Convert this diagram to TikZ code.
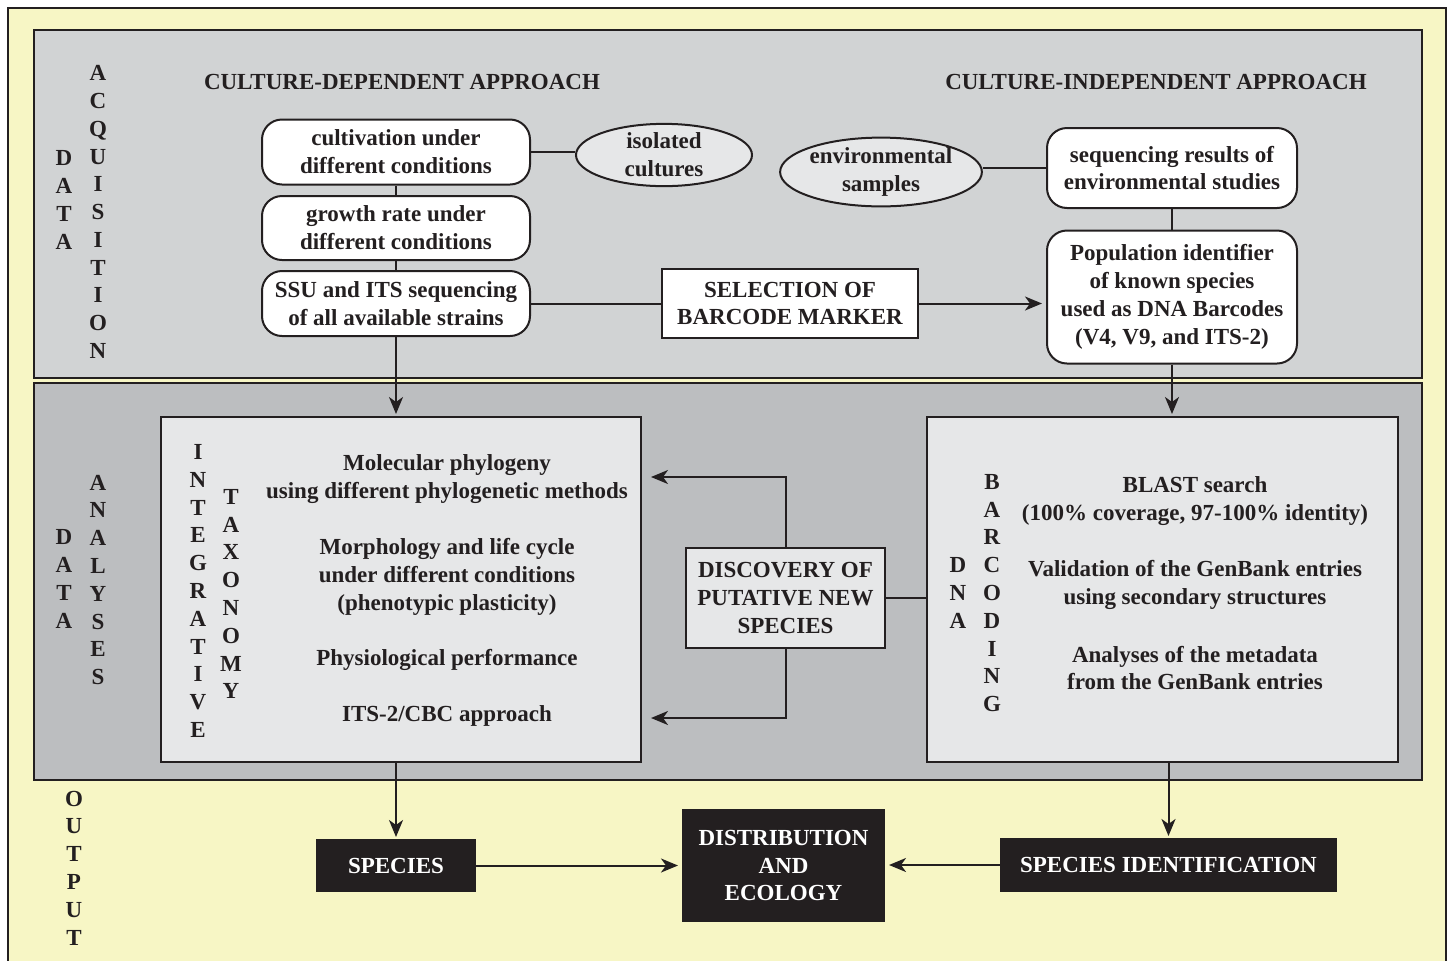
\documentclass[tikz,border=0pt]{standalone}
\usepackage{fontspec}
\setmainfont{Liberation Serif}
\usetikzlibrary{shapes.geometric,arrows.meta}

\definecolor{bgyellow}{RGB}{247,246,197}
\definecolor{paneltop}{RGB}{209,211,212}
\definecolor{panelbot}{RGB}{188,190,192}
\definecolor{boxgrey}{RGB}{230,231,232}
\definecolor{inkblack}{RGB}{35,31,32}

\tikzset{every picture/.style={line width=1pt}}
\tikzset{
  txt/.style={font=\fontsize{11.5}{13.9}\selectfont\bfseries, text=inkblack, align=center, inner sep=0pt},
  rbox/.style={txt, draw=inkblack, fill=white, rounded corners=10pt},
  sbox/.style={txt, draw=inkblack},
  oval/.style={txt, ellipse, draw=inkblack, fill=boxgrey},
  blkbox/.style={txt, draw=inkblack, fill=inkblack, text=white},
  arr/.style={draw=inkblack, -{Stealth[length=8.5pt,width=7pt,inset=2.5pt]}},
  con/.style={draw=inkblack},
}

\begin{document}
\begin{tikzpicture}[x=0.5pt,y=0.5pt,yscale=-1,xscale=1]
\useasboundingbox (0,0) rectangle (1448,960);

%Panels
\draw [draw=inkblack, fill=bgyellow] (8,8) rectangle (1446,975);
\draw [draw=inkblack, fill=paneltop] (34,30) rectangle (1422,378);
\draw [draw=inkblack, fill=panelbot] (34,383) rectangle (1422,780);

% Side labels
\node [txt] (dataA) at (64,200) {D\\A\\T\\A};
\node [txt] (acq) at (98,212) {A\\C\\Q\\U\\I\\S\\I\\T\\I\\O\\N};
\node [txt] (dataB) at (64,579) {D\\A\\T\\A};
\node [txt] (anl) at (98,580) {A\\N\\A\\L\\Y\\S\\E\\S};
\node [txt] (outp) at (74,868) {O\\U\\T\\P\\U\\T};

% Headings
\node [txt] (hdep) at (402,82) {CULTURE-DEPENDENT APPROACH};
\node [txt] (hind) at (1156,82) {CULTURE-INDEPENDENT APPROACH};

% Culture-dependent boxes
\node [rbox, minimum width=134pt, minimum height=32.5pt] (cult) at (396,152) {cultivation under\\different conditions};
\node [rbox, minimum width=134pt, minimum height=32pt] (growth) at (396,228) {growth rate under\\different conditions};
\node [rbox, minimum width=134pt, minimum height=32.5pt] (ssu) at (396,303.5) {SSU and ITS sequencing\\of all available strains};
\node [oval, minimum width=88pt, minimum height=31pt] (iso) at (664,155) {isolated\\cultures};

% Culture-independent boxes
\node [oval, minimum width=99pt, minimum height=34pt] (env) at (881,172) {environmental\\samples};
\node [rbox, minimum width=125pt, minimum height=40pt] (seqres) at (1172,168) {sequencing results of\\environmental studies};
\node [rbox, minimum width=125pt, minimum height=66.5pt] (popid) at (1172,297) {Population identifier\\of known species\\used as DNA Barcodes\\(V4, V9, and ITS-2)};
\node [sbox, fill=white, minimum width=128pt, minimum height=34.5pt] (selm) at (790,303.5) {SELECTION OF\\BARCODE MARKER};

% Analyses boxes
\node [sbox, fill=boxgrey, minimum width=240pt, minimum height=172.5pt] (itbox) at (401,589.5) {};
\node [sbox, fill=boxgrey, minimum width=235.5pt, minimum height=172.5pt] (dnabox) at (1162.5,589.5) {};
\node [sbox, fill=boxgrey, minimum width=99.5pt, minimum height=50pt] (disc) at (785.5,598) {DISCOVERY OF\\PUTATIVE NEW\\SPECIES};

\node [txt] (integ) at (198,591) {I\\N\\T\\E\\G\\R\\A\\T\\I\\V\\E};
\node [txt] (taxo) at (231,594) {T\\A\\X\\O\\N\\O\\M\\Y};
\node [txt] (molph) at (447,479) {Molecular phylogeny\\using different phylogenetic methods};
\node [txt] (morph) at (447,577) {Morphology and life cycle\\under different conditions\\(phenotypic plasticity)};
\node [txt] (phys) at (447,660) {Physiological performance};
\node [txt] (itscbc) at (447,716) {ITS-2/CBC approach};

\node [txt] (dna) at (958,593) {D\\N\\A};
\node [txt] (barc) at (992,593) {B\\A\\R\\C\\O\\D\\I\\N\\G};
\node [txt] (blast) at (1195,501) {BLAST search\\(100\% coverage, 97-100\% identity)};
\node [txt] (valid) at (1195,585) {Validation of the GenBank entries\\using secondary structures};
\node [txt] (meta) at (1195,668) {Analyses of the metadata\\from the GenBank entries};

% Output boxes
\node [blkbox, minimum width=79pt, minimum height=25.5pt] (spec) at (396,865.5) {SPECIES};
\node [blkbox, minimum width=100.5pt, minimum height=55.5pt] (distr) at (783.5,865.5) {DISTRIBUTION\\AND\\ECOLOGY};
\node [blkbox, minimum width=167.5pt, minimum height=26pt] (specid) at (1168.5,865) {SPECIES IDENTIFICATION};

\coordinate (tipA) at (651,477);
\coordinate (tipB) at (651,718);

%Connectors
\draw [con] (cult.east) -- (cult.east -| iso.west);
\draw [con] (cult.south) -- (growth.north);
\draw [con] (growth.south) -- (ssu.north);
\draw [con] (ssu.east) -- (selm.west);
\draw [arr] (selm.east) -- ([xshift=-2pt]popid.west |- selm.east);
\draw [con] (seqres.west) -- (seqres.west -| env.east);
\draw [con] (seqres.south) -- (popid.north);
\draw [arr] (ssu.south) -- ([yshift=-1pt]ssu.south |- itbox.north);
\draw [arr] (popid.south) -- ([yshift=-1pt]popid.south |- dnabox.north);
\draw [arr] (disc.north) |- (tipA);
\draw [arr] (disc.south) |- (tipB);
\draw [con] (disc.east) -- (disc.east -| dnabox.west);
\draw [arr] (itbox.south -| spec.north) -- ([yshift=-1pt]spec.north);
\draw [arr] (dnabox.south -| specid.north) -- ([yshift=-1pt]specid.north);
\draw [arr] (spec.east) -- ([xshift=-2pt]distr.west |- spec.east);
\draw [arr] (specid.west) -- ([xshift=2pt]distr.east |- specid.west);
\end{tikzpicture}
\end{document}
